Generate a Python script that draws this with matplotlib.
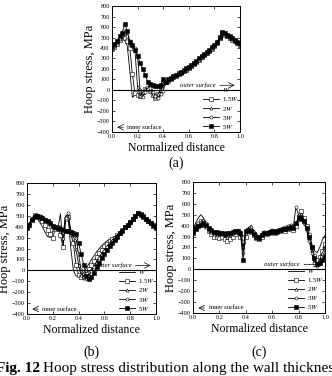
import matplotlib
matplotlib.use('Agg')
import matplotlib.pyplot as plt

plt.rcParams['font.family'] = ['Liberation Serif', 'DejaVu Serif']
plt.rcParams['mathtext.fontset'] = 'stix'

# normalized distance through the wall (sample nodes)
dist = [0.00, 0.02, 0.04, 0.06, 0.08, 0.10, 0.12, 0.14, 0.16, 0.18,
        0.20, 0.22, 0.24, 0.26, 0.28, 0.30, 0.32, 0.34, 0.36, 0.38,
        0.40, 0.42, 0.44, 0.46, 0.48, 0.50, 0.52, 0.54, 0.56, 0.58,
        0.60, 0.62, 0.64, 0.66, 0.68, 0.70, 0.72, 0.74, 0.76, 0.78,
        0.80, 0.82, 0.84, 0.86, 0.88, 0.90, 0.92, 0.94, 0.96, 0.98, 1.00]

labels = ['$W$', '1.5$W$', '2$W$', '3$W$', '5$W$']

# panel (a), hoop stress in MPa
a_w = [400, 420, 450, 470, 490, 470, 420, 180, -70, -50,
       -30, -60, -30, 0, 10, -10, -50, -80, -50, -10,
       60, 70, 85, 100, 115, 130, 145, 160, 175, 190,
       205, 225, 245, 265, 285, 305, 325, 345, 365, 390,
       415, 440, 490, 540, 520, 505, 490, 475, 460, 440, 420]
a_15w = [390, 410, 440, 480, 510, 500, 470, 400, 150, -30,
         -50, -60, -20, 10, 15, -10, -50, -75, -40, 0,
         65, 75, 90, 105, 120, 135, 150, 165, 180, 195,
         210, 230, 250, 270, 290, 310, 330, 350, 370, 395,
         420, 445, 495, 545, 525, 510, 495, 480, 465, 445, 425]
a_2w = [395, 420, 450, 490, 520, 540, 500, 460, 420, 380,
        30, -60, -20, 10, 15, 0, -40, -70, -40, 0,
        70, 80, 95, 110, 125, 140, 155, 170, 185, 200,
        215, 235, 255, 275, 295, 315, 335, 355, 375, 400,
        425, 450, 500, 540, 530, 515, 500, 485, 470, 450, 430]
a_3w = [400, 420, 460, 500, 520, 560, 510, 470, 430, 400,
        330, 0, -70, -20, 10, 15, -20, -60, -80, -40,
        -10, 75, 90, 105, 120, 135, 150, 165, 180, 195,
        210, 230, 250, 270, 290, 310, 330, 350, 370, 395,
        420, 445, 495, 545, 530, 515, 500, 485, 470, 450, 435]
a_5w = [420, 440, 470, 510, 540, 630, 560, 460, 430, 380,
        320, 260, 200, 140, 80, 55, 45, 40, 35, 50,
        100, 80, 100, 115, 130, 145, 160, 175, 190, 205,
        220, 240, 260, 280, 300, 320, 340, 360, 380, 405,
        430, 455, 505, 550, 540, 525, 510, 495, 480, 460, 450]

# panel (b)
b_w = [390, 430, 480, 500, 480, 440, 400, 350, 310, 300,
       360, 400, 380, 520, 220, 480, 470, 200, 0, -50,
       -60, -50, -20, 20, 60, 100, 135, 170, 200, 225,
       250, 270, 285, 300, 310, 325, 345, 370, 395, 420,
       445, 470, 500, 530, 510, 490, 470, 450, 430, 410, 390]
b_15w = [390, 420, 470, 510, 500, 480, 450, 420, 370, 330,
         300, 380, 400, 320, 210, 470, 490, 330, 250, 50,
         -40, -60, -60, -30, 10, 50, 90, 125, 160, 190,
         220, 245, 265, 285, 300, 320, 345, 370, 395, 420,
         445, 470, 500, 530, 510, 490, 470, 450, 430, 410, 390]
b_2w = [390, 430, 480, 510, 510, 500, 480, 460, 440, 420,
        400, 390, 380, 360, 300, 500, 480, 340, 300, 200,
        50, -40, -70, -70, -40, 0, 40, 80, 120, 155,
        190, 220, 250, 275, 295, 320, 345, 370, 395, 420,
        445, 470, 500, 530, 510, 490, 470, 450, 430, 410, 390]
b_3w = [390, 420, 470, 500, 500, 500, 490, 470, 450, 430,
        410, 400, 390, 380, 350, 480, 530, 360, 330, 300,
        150, 0, -60, -70, -50, -10, 30, 70, 110, 145,
        180, 210, 240, 265, 290, 315, 345, 370, 395, 420,
        445, 470, 500, 530, 510, 490, 470, 450, 430, 410, 390]
b_5w = [400, 420, 460, 490, 500, 490, 480, 460, 450, 430,
        410, 400, 390, 380, 370, 360, 360, 350, 340, 330,
        250, 150, 50, -50, -80, -60, -20, 30, 70, 110,
        150, 185, 220, 250, 280, 310, 340, 365, 395, 420,
        445, 470, 500, 530, 515, 495, 475, 455, 435, 415, 395]

# panel (c)
c_w = [380, 420, 470, 500, 470, 420, 370, 330, 310, 300,
       310, 320, 300, 280, 300, 320, 340, 350, 330, 300,
       330, 370, 360, 330, 320, 300, 330, 350, 340, 350,
       360, 340, 350, 360, 370, 360, 380, 370, 390, 400,
       450, 500, 480, 420, 330, 230, 170, 150, 200, 270, 310]
c_15w = [350, 380, 410, 440, 430, 400, 350, 320, 300, 300,
         290, 300, 280, 260, 280, 300, 320, 340, 300, 250,
         300, 350, 340, 310, 290, 280, 300, 330, 320, 330,
         340, 330, 340, 350, 360, 350, 370, 380, 360, 400,
         470, 530, 470, 400, 310, 200, 120, 80, 110, 170, 230]
c_2w = [360, 400, 420, 430, 420, 390, 360, 340, 320, 310,
        320, 320, 310, 300, 310, 330, 350, 350, 320, 200,
        330, 380, 400, 350, 300, 290, 310, 340, 330, 340,
        350, 340, 350, 360, 380, 370, 390, 400, 380, 420,
        470, 510, 450, 380, 280, 180, 100, 50, 90, 150, 200]
c_3w = [340, 380, 420, 430, 440, 420, 380, 350, 330, 330,
        330, 330, 320, 320, 320, 330, 350, 360, 340, 150,
        340, 370, 360, 330, 310, 300, 320, 340, 340, 350,
        360, 350, 360, 370, 380, 390, 400, 410, 390, 570,
        500, 460, 420, 360, 260, 150, 60, 30, 50, 90, 130]
c_5w = [330, 370, 400, 410, 420, 410, 380, 360, 340, 340,
        330, 330, 320, 330, 330, 340, 350, 350, 330, 80,
        350, 360, 350, 320, 300, 290, 310, 330, 330, 340,
        350, 340, 350, 360, 370, 370, 380, 390, 380, 420,
        480, 460, 440, 380, 300, 200, 100, 50, 60, 80, 110]

styles = [dict(marker=None),
          dict(marker='s', mfc='white'),
          dict(marker='^', mfc='white'),
          dict(marker='o', mfc='white'),
          dict(marker='s', mfc='black')]


def draw_panel(ax, series):
    for ys, lab, st in zip(series, labels, styles):
        ax.plot(dist, ys, color='black', lw=0.6, ms=2.2, mew=0.4,
                label=lab, **st)
    ax.axhline(0, color='black', lw=0.8)
    ax.set_xlim(0, 1)
    ax.set_ylim(-400, 800)
    ax.set_xticks([0, 0.2, 0.4, 0.6, 0.8, 1.0])
    ax.set_yticks(range(-400, 801, 100))
    ax.tick_params(labelsize=4.5, direction='in', length=2, width=0.5,
                   top=True, right=True, pad=1.5)
    for s in ax.spines.values():
        s.set_linewidth(0.7)
    ax.set_xlabel('Normalized distance', fontsize=8.5, labelpad=2)
    ax.set_ylabel('Hoop stress, MPa', fontsize=9, labelpad=1)
    ax.annotate('', xy=(0.98, 45), xytext=(0.82, 45),
                arrowprops=dict(arrowstyle='->', lw=0.5, color='black'))
    ax.text(0.81, 45, 'outer surface', fontsize=4.8, style='italic',
            ha='right', va='center')
    ax.annotate('', xy=(0.02, -355), xytext=(0.11, -355),
                arrowprops=dict(arrowstyle='->', lw=0.5, color='black'))
    ax.text(0.12, -355, 'inner surface', fontsize=4.8, ha='left', va='center')
    ax.legend(loc='lower right', frameon=False, fontsize=5,
              handlelength=2.4, labelspacing=0.15, borderpad=0.1,
              borderaxespad=0.1, handletextpad=0.3)


fig = plt.figure(figsize=(3.32, 3.76), dpi=100)
ax_a = fig.add_axes([0.337, 0.649, 0.386, 0.335])
ax_b = fig.add_axes([0.081, 0.165, 0.389, 0.348])
ax_c = fig.add_axes([0.581, 0.168, 0.398, 0.348])

draw_panel(ax_a, [a_w, a_15w, a_2w, a_3w, a_5w])
draw_panel(ax_b, [b_w, b_15w, b_2w, b_3w, b_5w])
draw_panel(ax_c, [c_w, c_15w, c_2w, c_3w, c_5w])

# panel tags
fig.text(0.53, 0.566, '(a)', fontsize=10, ha='center', va='center')
fig.text(0.275, 0.064, '(b)', fontsize=10, ha='center', va='center')
fig.text(0.78, 0.064, '(c)', fontsize=10, ha='center', va='center')

# caption, cut at the left and right edges as in the source page
fig.text(0.12, 0.01, 'Fig. 12', fontsize=11, fontweight='bold',
         ha='right', va='baseline')
fig.text(0.13, 0.01, 'Hoop stress distribution along the wall thickness',
         fontsize=11, ha='left', va='baseline')

fig.savefig('out.png', dpi=100)
